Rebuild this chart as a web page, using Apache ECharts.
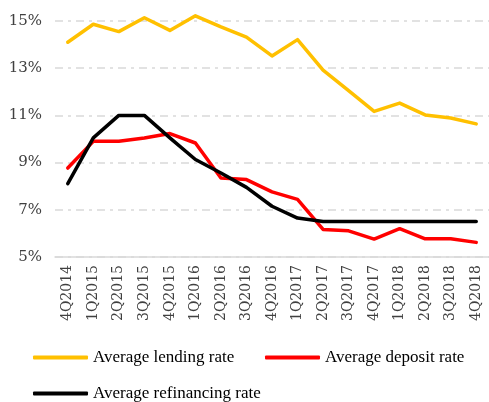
<!DOCTYPE html>
<html>
<head>
<meta charset="utf-8">
<script src="https://cdn.jsdelivr.net/npm/echarts@6/dist/echarts.min.js"></script>
<style>
  html, body { margin: 0; padding: 0; background: #fff; }
  #chart { width: 489px; height: 402px; }
</style>
</head>
<body>
<div id="chart"></div>
<script>
// quarters on the x axis
var quarters = ['4Q2014', '1Q2015', '2Q2015', '3Q2015', '4Q2015', '1Q2016', '2Q2016', '3Q2016', '4Q2016',
  '1Q2017', '2Q2017', '3Q2017', '4Q2017', '1Q2018', '2Q2018', '3Q2018', '4Q2018'];

// rates, %
var lendingRate = [14.1, 14.86, 14.55, 15.14, 14.6, 15.22, 14.75, 14.32, 13.52, 14.21, 12.92, 12.05, 11.17, 11.52, 11.02, 10.89, 10.64];
var depositRate = [8.77, 9.9, 9.9, 10.04, 10.23, 9.83, 8.35, 8.28, 7.76, 7.44, 6.17, 6.11, 5.76, 6.2, 5.77, 5.77, 5.62];
var refinancingRate = [8.11, 10.05, 11.0, 11.0, 10.05, 9.13, 8.56, 7.95, 7.15, 6.65, 6.5, 6.5, 6.5, 6.5, 6.5, 6.5, 6.5];

var seriesNames = ['Average lending rate', 'Average deposit rate', 'Average refinancing rate'];
var seriesColors = ['#FFC000', '#FF0000', '#000000'];

var axisFont = 'DejaVu Serif';
var legendFont = 'Liberation Serif';
var textColor = '#404040';

var chart = echarts.init(document.getElementById('chart'));
var option;

function makeSeries(i, values) {
  return {
    name: seriesNames[i],
    type: 'line',
    data: values,
    symbol: 'none',
    clip: false,
    lineStyle: { color: seriesColors[i], width: 3.5, cap: 'round', join: 'round' },
    itemStyle: { color: seriesColors[i] }
  };
}

// one legend per item so they sit where the original puts them
function makeLegend(i, left, top) {
  return {
    left: left,
    top: top,
    padding: 0,
    icon: 'roundRect',
    itemWidth: 55,
    itemHeight: 4,
    textStyle: { fontFamily: legendFont, fontSize: 17, color: '#000' },
    data: [seriesNames[i]]
  };
}

option = {
  animation: false,
  backgroundColor: '#fff',
  grid: { left: 55, right: -9, top: 21, bottom: 145, containLabel: false },
  legend: [
    makeLegend(0, 33, 349),
    makeLegend(1, 265, 349),
    makeLegend(2, 33, 385)
  ],
  xAxis: {
    type: 'category',
    data: quarters,
    boundaryGap: true,
    axisLine: { lineStyle: { color: '#D9D9D9', width: 1.5 } },
    axisTick: { show: false },
    axisLabel: { rotate: 90, margin: 8, fontFamily: axisFont, fontSize: 14, color: textColor, interval: 0 }
  },
  yAxis: {
    type: 'value',
    min: 5,
    max: 15,
    interval: 2,
    axisLine: { show: false },
    axisTick: { show: false },
    axisLabel: {
      margin: 13,
      fontFamily: axisFont,
      fontSize: 15,
      color: textColor,
      formatter: '{value}%'
    },
    splitLine: {
      lineStyle: { color: '#D9D9D9', width: 1.5, type: [8, 5, 3, 5] }
    }
  },
  series: [
    makeSeries(0, lendingRate),
    makeSeries(1, depositRate),
    makeSeries(2, refinancingRate)
  ]
};

option && chart.setOption(option);
</script>
</body>
</html>
